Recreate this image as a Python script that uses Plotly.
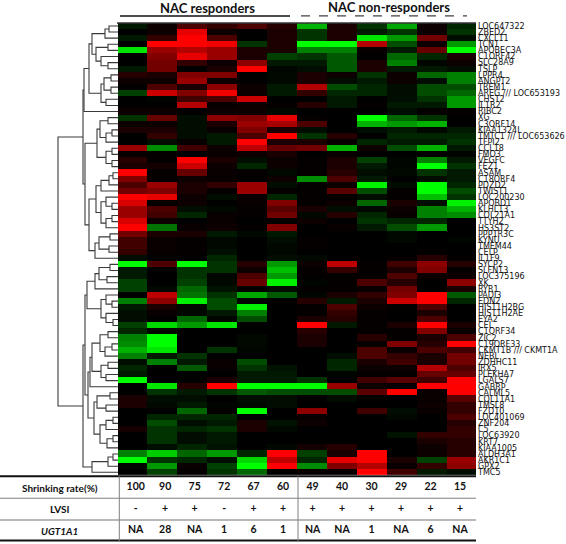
import plotly.graph_objects as go

W, H = 566, 544
GENES = ["LOC647322","ZBED2","CXCL11","TCN1","APOBEC3A","C1ORF42","SLC28A9","TSLP","LPPR4","ANGPT2","TREM1","AREG /// LOC653193","CHST2","IL1R2","RIBC2","XG","C3ORF14","KIAA1324L","TMTC1 /// LOC653626","TFPI2","CCL18","FMO3","VEGFC","FEZ1","ASAM","C18ORF4","PDZD2","TWIST1","LOC200230","APOBD1","KLHL13","COL21A1","TTYH2","HS3ST2","PPP1R3C","KYNU","TMEM44","CELP","IL1F9","SYCP2","SLFN13","LOC375196","XK","RYR1","PADI3","EDN2","HIST1H2BG","HIST1H2AE","EYA2","CEL","C1ORF34","ZIC2","C19ORF33","CKMT1B /// CKMT1A","NEBL","ZDHHC11","IRX5","PLEKHA7","LGALS7","GABRP","CALML5","COL11A1","TMSL8","FZD10","LOC401069","ZNF204","C5","LOC63920","KRT7","KIAA1005","ALDH3A1","AKR1C1","GPX2","TMC5"]

VALUES = [
[-.1,.05,.3,.2,.3,.15,-.7,.1,-.2,-.65,.05,-.15],
[0,.05,.9,.05,0,.1,-.2,.1,-.1,-.2,.05,-.2],
[-.1,.2,1,.3,0,.1,-.2,.1,-.9,-.6,.45,-.05],
[0,1,1,.95,-.2,.1,-1,-1,.7,-.3,.05,-.6],
[-.9,.6,.7,.6,.1,.1,-.5,-.5,.03,-.1,.4,-1],
[0,.5,.9,.6,.1,-.25,-.2,-.35,0,-.4,-.15,.1],
[0,.45,.2,.05,.55,-.1,-.1,-.35,.1,-.5,-.02,.05],
[-.1,.45,0,.1,1,-.02,-.05,-.35,.1,-.1,-.1,-.05],
[.15,.1,.5,.5,0,-.03,.1,.05,-.2,.05,-.4,-.5],
[.05,.05,.6,.05,0,-.03,.1,-.05,-.1,.05,-.05,-.5],
[0,.3,.1,.55,.05,-.1,.7,-.3,-.15,-.05,-.3,-.3],
[-.25,.8,.5,.95,.05,-.1,.2,-.15,-.15,-.05,-.3,-.4],
[0,-.02,.25,.3,.8,0,0,-.1,0,-.05,-.2,-.6],
[0,0,.7,.03,.05,.02,.15,-.1,.02,-.1,-.1,-.6],
[.05,.05,0,.05,.05,-.03,0,0,0,-.05,.02,.02],
[-.2,.4,-.05,.55,.5,.9,.02,0,-1,-.4,-.2,0],
[.05,.05,-.05,.1,.6,.65,.3,0,-.7,-.6,-.7,0],
[.1,.1,-.05,.03,.5,.1,-.05,0,-.05,-.1,-.03,-.1],
[0,.2,-.05,-.1,.3,1,-.2,.15,0,-.15,-.15,-.15],
[0,-.05,.03,-.1,1,.1,.1,.03,-.15,-.1,-.1,-.2],
[.6,-.55,.25,.05,.75,.4,.45,-.7,.05,-.3,-.7,-.1],
[.03,.02,0,.03,.05,.1,0,.03,0,0,.02,-.02],
[.15,.02,1,.1,-.05,.05,.02,.1,-.25,-.02,-.5,-.1],
[.1,.08,.8,.05,-.15,.05,.02,.1,-.1,-.02,-1,-.2],
[1,.02,.4,.03,.02,-.03,.02,.15,-.05,-.03,-.2,-.1],
[.5,.02,.05,.03,0,.05,-.55,.3,-.1,0,-.05,-.1],
[.3,.6,.1,.2,.6,-.05,.02,.05,-.95,-.05,-1,-.15],
[.45,.5,.1,.02,.6,.02,.02,.35,-.3,.02,-1,-.3],
[1,.9,.05,-.05,.03,-.15,.02,.02,-.05,.02,-.75,-.2],
[.85,.02,.05,0,.03,.5,.02,.05,-.4,.1,-.05,-.95],
[.6,.3,-.05,-.03,.02,.35,.1,-.05,-.03,.05,-.5,-.7],
[.6,.25,-.15,.03,.02,.45,-.03,.15,-.15,.03,-.5,-.55],
[.85,.05,0,.03,0,.02,.05,0,-.2,-.15,-.15,0],
[1,-.45,.03,.05,.02,.5,0,.03,-.1,-.3,-.6,0],
[.45,.1,.1,-.1,-.03,-.1,0,0,0,-.03,0,0],
[.25,.03,.02,-.03,0,-.05,.02,0,0,-.03,0,-.02],
[.25,.03,.02,-.03,0,-.03,.02,0,0,0,0,0],
[.2,.03,.02,-.06,0,-.03,0,0,0,0,.02,0],
[-.05,0,0,-.15,0,-.05,-.03,0,0,.02,.15,.02],
[-1,.3,-1,-.2,.15,-.6,.05,.75,.02,.25,.55,.15],
[-.1,0,-.2,-.2,.05,-.75,.02,.2,.02,.1,.5,.02],
[-.1,0,-.2,-.02,.3,-.6,.02,.02,.02,.3,.05,.05],
[-.25,0,-.25,-.03,.4,-.95,-.02,.02,.3,.15,0,.55],
[-.25,-.03,-.4,-.07,.02,-.05,.02,.02,.03,.45,0,.1],
[0,.75,-.45,-.2,-.65,-.35,-.02,.1,.2,.5,1,-.35],
[-.5,.55,-.95,-.3,-.02,0,.15,-.1,.1,.8,1,-.15],
[-.1,.1,-.03,-.3,-.95,0,.02,.3,.05,.02,.3,0],
[-.05,.03,-.03,-.1,-.5,0,.02,.2,.02,0,.1,0],
[-.05,0,-.4,-.02,-.3,0,.1,.15,.02,0,.3,0],
[-.25,-.85,-.6,-.9,0,0,1,-.1,.02,.1,1,.1],
[-.15,-.03,0,0,0,0,.15,0,.02,.02,.5,.03],
[-.5,-1,0,0,-.03,0,.1,0,.15,.02,.1,.3],
[-.55,-1,0,0,-.03,0,.1,0,.03,.5,.15,1],
[-.7,-.9,0,-.2,-.02,0,0,0,.3,.03,.3,.25],
[-.5,-.1,-.2,0,0,0,0,-.05,.3,.2,.1,.45],
[-.05,-.5,-.1,.03,-.3,0,0,-.15,.1,.25,.1,.45],
[-.15,0,-.35,.03,-.2,-.07,0,-.15,.05,.05,.7,.3],
[-.1,0,0,0,-.1,-.1,0,-.02,.02,.02,.4,.4],
[-1,0,0,.1,-.1,-.1,-.2,0,.25,.35,.25,1],
[0,-.9,.15,1,-1,-1,-1,.6,.05,.03,1,1],
[0,-.2,-.1,-.2,-.35,-.3,-.3,-.3,.35,1,.03,1],
[.1,-.05,-.05,0,-.05,-.05,.02,-.05,.02,0,.03,.35],
[.1,-.03,-.1,-.02,-.03,-.05,0,0,0,0,.05,.2],
[0,0,-.4,.02,-1,0,.55,0,.25,-.05,.03,.2],
[0,-.15,-.15,-.15,0,0,.03,0,0,-.03,0,.3],
[0,-.3,-.05,-.1,.1,-.07,.05,0,0,0,0,.15],
[.08,-.2,-.15,-.2,.1,-.03,0,0,0,0,0,.2],
[0,-.2,-.05,-.1,0,0,0,0,0,-.07,.2,.2],
[0,-.2,-.05,-.1,0,0,0,0,0,0,.1,.15],
[0,-.05,-.15,-.07,0,-.03,.08,.15,0,0,.05,.15],
[-.5,-.8,-.4,-.6,-.15,1,-.25,.1,1,0,.05,.15],
[-1,-.2,-.15,-.05,-.85,.75,-.15,.9,1,.1,-.25,.6],
[-.02,-.6,.03,-.25,-1,1,-.55,.5,.7,.03,.2,.55],
[0,-.25,.02,-.2,-.4,0,.03,.03,1,.25,-.1,-.05],
]

SHRINKING = ["100","90","75","72","67","60","49","40","30","29","22","15"]
LVSI = ["-","+","+","-","+","+","+","+","+","+","+","+"]
UGT1A1 = ["NA","28","NA","1","6","1","NA","NA","1","NA","6","NA"]
ROW_TITLES = ["Shrinking rate(%)", "LVSI", "<i>UGT1A1</i>"]

# Gene tree: (merge height, child, child); 0 is a gene leaf, in row order.
A1 = (13, (9, 0, 0), 0)
A2 = (22, (10, 0, 0), (17, 0, (10, 0, 0)))
A3 = (17, (14, (7, 0, 0), (7, 0, 0)), (12, 0, 0))
B = (29, (26, A1, A2), A3)
A = (34, B, 0)
E = (21, (18, (10, 0, 0), (12, (6, 0, 0), 0)), (12, (6, 0, 0), (6, 0, 0)))
G = (22, (17, (9, (5, 0, 0), 0), 0), (17, (12, 0, (6, 0, 0)), (12, (6, 0, 0), 0)))
K = (23, (19, (8, 0, 0), (9, 0, 0)), 0)
D = (33, E, (29, G, K))
UPPER = (35, A, D)
N = (31, (23, (19, (8, 0, 0), (11, 0, 0)), 0), (17, (12, 0, (6, 0, 0)), (12, 0, (5, 0, 0))))
P = (26, (18, (10, 0, 0), (13, (6, 0, 0), 0)), (17, (10, 0, 0), (12, 0, 0)))
R = (24, (21, (8, 0, 0), (12, 0, 0)), (18, (12, (5, 0, 0), 0), (11, (5, 0, 0), 0)))
S = (30, (28, P, 0), R)
T = (26, (10, (5, 0, 0), 0), 0)
LOWER = (35, (33, N, S), T)
TREE = (60, UPPER, LOWER)


def segments(node, xs, ys, counter):
    if node == 0:
        row = counter[0]
        counter[0] += 1
        return 0, row
    h, a, b = node
    ha, ya = segments(a, xs, ys, counter)
    hb, yb = segments(b, xs, ys, counter)
    xs += [ha, h, h, hb, None]
    ys += [ya, ya, yb, yb, None]
    return h, (ya + yb) / 2


tx, ty = [], []
segments(TREE, tx, ty, [0])

px = lambda v: v / W
py = lambda v: 1 - v / H

TOP, BOTTOM, LEFT, RIGHT = 22, 477, 117.5, 476
T_TOP, T_BOT = 478, 543

fig = go.Figure()
fig.add_trace(go.Heatmap(
    z=VALUES, x=list(range(12)), y=list(range(len(GENES))),
    colorscale=[[0, "#00ff00"], [0.5, "#000000"], [1, "#ff0000"]],
    zmin=-1, zmax=1, showscale=False, xaxis="x", yaxis="y", hoverinfo="skip"))
fig.add_trace(go.Scatter(x=tx, y=ty, mode="lines", xaxis="x2", yaxis="y",
                         line=dict(color="#3a3a3a", width=1.1), hoverinfo="skip"))
for r, row in enumerate([SHRINKING, LVSI, UGT1A1]):
    fig.add_trace(go.Scatter(
        x=list(range(12)), y=[r] * 12, text=row, mode="text", xaxis="x3", yaxis="y3",
        cliponaxis=False,
        textfont=dict(family="Lato", size=10.5, color="#111111", weight="bold"),
        hoverinfo="skip"))

fig.update_layout(
    width=W, height=H, margin=dict(l=0, r=0, t=0, b=0), autosize=False,
    paper_bgcolor="white", plot_bgcolor="white", showlegend=False,
    xaxis=dict(domain=[px(LEFT), px(RIGHT)], range=[-0.5, 11.5], visible=False),
    yaxis=dict(domain=[py(BOTTOM), py(TOP)], range=[len(GENES) - 0.5, -0.5], side="right",
               tickmode="array", tickvals=list(range(len(GENES))), ticktext=GENES,
               tickfont=dict(family="DejaVu Sans", size=8, color="#111111"),
               ticks="", showline=False, showgrid=False, zeroline=False, anchor="x",
               ticklabelstandoff=1),
    xaxis2=dict(domain=[0, px(118)], range=[118, 0], visible=False, anchor="y"),
    xaxis3=dict(domain=[px(135.7), px(460)], range=[0, 11], visible=False, anchor="y3"),
    yaxis3=dict(domain=[py(T_BOT), py(T_TOP)], range=[2.47, -0.53], visible=False, anchor="x3"),
)

shapes = [
    (0, 478, 476, 478, "#111111", 2, "solid"),
    (0, 500, 476, 500, "#808080", 1, "solid"),
    (0, 522, 476, 522, "#b8b8b8", 2, "solid"),
    (0, 542.5, 476, 542.5, "#111111", 2, "solid"),
    (119.3, 478, 119.3, 543, "#808080", 1, "solid"),
    (298, 478, 298, 543, "#808080", 1, "solid"),
    (117, 22, 476, 22, "#333333", 1.5, "solid"),
    (120, 15, 290, 15, "#111111", 1.5, "solid"),
    (301, 15, 467, 15, "#111111", 1, "dash"),
]
for x0, y0, x1, y1, c, w, d in shapes:
    fig.add_shape(type="line", xref="paper", yref="paper", x0=px(x0), x1=px(x1),
                  y0=py(y0), y1=py(y1), line=dict(color=c, width=w, dash=d))

for txt, x, y in [("NAC responders", 207, 7.5), ("NAC non-responders", 389, 6.5)]:
    fig.add_annotation(text=f"<b>{txt}</b>", x=px(x), y=py(y), xref="paper", yref="paper",
                       xanchor="center", yanchor="middle", borderpad=0,
                       showarrow=False, font=dict(family="Lato", size=13, color="#111111"))
for txt, y in zip(ROW_TITLES, [490, 511, 533]):
    fig.add_annotation(text=f"<b>{txt}</b>", x=px(59.5), y=py(y), xref="paper", yref="paper",
                       xanchor="center", yanchor="middle",
                       showarrow=False, font=dict(family="Lato", size=10, color="#111111"))

fig.write_html("out.html", config=dict(displayModeBar=False),
               post_script="document.body.style.margin='0';document.body.style.overflow='hidden';")
